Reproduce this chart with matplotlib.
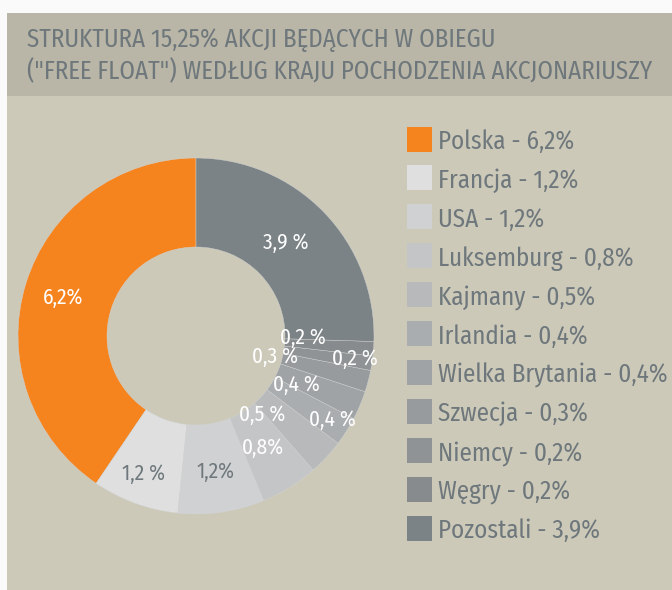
import matplotlib
matplotlib.use("Agg")
import matplotlib.pyplot as plt
from matplotlib.patches import Rectangle
from matplotlib import font_manager
import numpy as np

# ---- data ----
countries = ["Polska", "Francja", "USA", "Luksemburg", "Kajmany", "Irlandia",
             "Wielka Brytania", "Szwecja", "Niemcy", "Węgry", "Pozostali"]
values = [6.2, 1.2, 1.2, 0.8, 0.5, 0.4, 0.4, 0.3, 0.2, 0.2, 3.9]
legend_labels = ["Polska - 6,2%", "Francja - 1,2%", "USA - 1,2%", "Luksemburg - 0,8%",
                 "Kajmany - 0,5%", "Irlandia - 0,4%", "Wielka Brytania - 0,4%",
                 "Szwecja - 0,3%", "Niemcy - 0,2%", "Węgry - 0,2%", "Pozostali - 3,9%"]
slice_labels = ["6,2%", "1,2 %", "1,2%", "0,8%", "0,5 %", "0,4 %", "0,4 %",
                "0,3 %", "0,2 %", "0,2 %", "3,9 %"]
title_lines = ["STRUKTURA 15,25% AKCJI BĘDĄCYCH W OBIEGU",
               '("FREE FLOAT") WEDŁUG KRAJU POCHODZENIA AKCJONARIUSZY']

# ---- style ----
colors = ["#F5841F", "#DEDFDE", "#D0D1D2", "#C4C5C6", "#B7B9BA", "#AAADAF",
          "#A0A3A5", "#989B9D", "#909395", "#878B8D", "#7C8386"]
label_colors = ["white", "#6F787C", "#6F787C"] + ["white"] * 8
# per-label placement: (angle offset in degrees, radius fraction)
label_pos = [(1, 0.78), (-1, 0.83), (0, 0.77), (-1, 0.73), (-7, 0.58), (1, 0.90),
             (-3, 0.63), (0, 0.46), (8, 0.60), (-4, 0.90), (2, 0.73)]

avail = {f.name for f in font_manager.fontManager.ttflist}
def pick(*names):
    for n in names:
        if n in avail:
            return n
    return "DejaVu Sans"

TITLE_FONT = pick("Fira Sans Condensed", "PT Sans Narrow", "Roboto Condensed")
BODY_FONT = pick("Fira Sans Condensed", "PT Sans Narrow", "Roboto Condensed")
plt.rcParams['font.family'] = [BODY_FONT, "DejaVu Sans"]

W, H = 672, 590
fig = plt.figure(figsize=(W / 100, H / 100), dpi=100, facecolor="#FAFAFA")
renderer = fig.canvas.get_renderer()

def fx(px):
    return px / W

def fy(py):
    return 1 - py / H

def fit(t, target_px):
    w = t.get_window_extent(renderer=renderer).width
    t.set_fontsize(t.get_fontsize() * target_px / w)

BODY = "#CCC9B9"
BAND = "#B9B6A7"
TXT = "#6E777B"
fig.patches.append(Rectangle((fx(7), 0), 1 - fx(7), fy(96), transform=fig.transFigure,
                             facecolor=BODY, edgecolor="none", zorder=-2))
fig.patches.append(Rectangle((fx(7), fy(96)), 1 - fx(7), fy(13) - fy(96),
                             transform=fig.transFigure, facecolor=BAND, edgecolor="none",
                             zorder=-2))

t1 = fig.text(fx(27), fy(47), title_lines[0], fontsize=18, color=TXT, va="baseline",
              ha="left", family=[TITLE_FONT, "DejaVu Sans"])
t2 = fig.text(fx(27), fy(79), title_lines[1], fontsize=18, color=TXT, va="baseline",
              ha="left", family=[TITLE_FONT, "DejaVu Sans"])
fit(t2, 626)
t1.set_fontsize(t2.get_fontsize())

# ---- donut ----
cx, cy, R = 196, 336, 178
ax = fig.add_axes([fx(cx - R), fy(cy + R), 2 * R / W, 2 * R / H])
wedges, _ = ax.pie(values, colors=colors, startangle=90, counterclock=True,
                   wedgeprops=dict(width=0.5, edgecolor="#D3D4D4", linewidth=0.3))
ax.set_xlim(-1, 1)
ax.set_ylim(-1, 1)
ax.set_aspect("auto")
ax.axis("off")

lbl_texts = []
for w, lab, col, (da, rf) in zip(wedges, slice_labels, label_colors, label_pos):
    ang = np.deg2rad((w.theta1 + w.theta2) / 2 + da)
    lbl_texts.append(ax.text(rf * np.cos(ang), rf * np.sin(ang), lab, ha="center",
                             va="center", fontsize=14, color=col))
fit(lbl_texts[-1], 46)
for t in lbl_texts:
    t.set_fontsize(lbl_texts[-1].get_fontsize())

# ---- legend ----
top_c, step = 139, 38.9
leg_texts = []
for i, (lab, col) in enumerate(zip(legend_labels, colors)):
    yc = top_c + i * step
    fig.patches.append(Rectangle((fx(407), fy(yc + 12.5)), 25 / W, 25 / H,
                                 transform=fig.transFigure, facecolor=col,
                                 edgecolor="none", zorder=2))
    leg_texts.append(fig.text(fx(438), fy(yc + 10), lab, fontsize=17, color=TXT,
                              va="baseline", ha="left"))
fit(leg_texts[6], 230)
for t in leg_texts:
    t.set_fontsize(leg_texts[6].get_fontsize())

fig.savefig("out.png", dpi=100, facecolor=fig.get_facecolor())
